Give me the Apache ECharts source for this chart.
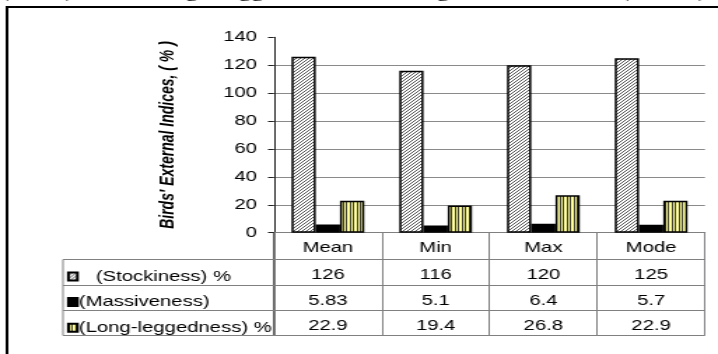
<!DOCTYPE html>
<html>
<head>
<meta charset="utf-8">
<script src="https://cdn.jsdelivr.net/npm/echarts@6/dist/echarts.min.js"></script>
<style>
  html, body { margin: 0; padding: 0; background: #fff; overflow: hidden; }
  /* the figure is laid out narrow and widened horizontally, like the printed page */
  #chart { width: 513px; height: 354px; transform-origin: 0 0; transform: scaleX(1.39961); }
</style>
</head>
<body>
<div id="chart"></div>
<script>
// Birds' external indices by statistic
const categories = ['Mean', 'Min', 'Max', 'Mode'];
const stockiness = [126, 116, 120, 125];
const massiveness = [5.83, 5.1, 6.4, 5.7];
const longLeggedness = [22.9, 19.4, 26.8, 22.9];
const seriesNames = ['   (Stockiness) %', '(Massiveness)', '(Long-leggedness) %'];
const yMin = 0, yMax = 140, yStep = 20;
const axisTitle = "Birds' External Indices, ( % )";

const SANS = "'Liberation Sans', Arial, sans-serif";
const SERIF = "'Liberation Serif', 'Times New Roman', serif";
const FS = 14.5;

// horizontal widening factor; X() maps page x to layout x
const S = 718 / 513;
const X = v => v / S;

// plot + data-table geometry (page pixels)
const G = { left: X(274), right: 513 - X(705), top: 37.3, bottom: 121.3 };
const rowOffsets = [26.6, 52.3, 77.3];
const tableLines = [259.5, 285.5, 310.5, 335.5];
const tableLeft = X(63), tableRight = X(705);

// fill patterns
function hatchPattern() {
  const c = document.createElement('canvas');
  c.width = 3; c.height = 3;
  const g = c.getContext('2d');
  g.fillStyle = '#ffffff'; g.fillRect(0, 0, 3, 3);
  g.fillStyle = '#555555';
  for (let i = 0; i < 3; i++) g.fillRect(i, 2 - i, 1, 1);
  return c;
}
function stripePattern() {
  const c = document.createElement('canvas');
  c.width = 5; c.height = 4;
  const g = c.getContext('2d');
  g.fillStyle = '#ffff99'; g.fillRect(0, 0, 5, 4);
  g.fillStyle = '#3a3a2a';
  g.fillRect(0, 0, 1, 4);
  g.fillRect(2, 0, 1, 4);
  return c;
}

const splitColors = [];
for (let v = yMin; v <= yMax; v += yStep) splitColors.push(v < yMax ? '#8a8a8a' : 'rgba(0,0,0,0)');

const valueRows = [stockiness, massiveness, longLeggedness];

const chart = echarts.init(document.getElementById('chart'), null, { renderer: 'canvas', devicePixelRatio: 1 });

const capFont = '18px ' + SERIF;
const capY = 1;
const graphics = [
  // outer frame
  { type: 'rect', shape: { x: X(7), y: 7, width: 600, height: 400 }, style: { fill: 'none', stroke: '#000', lineWidth: 2 }, silent: true },
  // caption line above the frame
  { type: 'text', x: 0.5, y: capY, style: { text: '(Tab.3)', font: capFont, fill: '#000', verticalAlign: 'bottom' } },
  { type: 'text', x: 80.6, y: capY, style: { text: 'showing', font: capFont, fill: '#000', verticalAlign: 'bottom' } },
  { type: 'text', x: 157.5, y: capY, style: { text: 'leggedness and', font: capFont, fill: '#000', verticalAlign: 'bottom' } },
  { type: 'text', x: 288.9, y: capY, style: { text: 'long', font: capFont, fill: '#000', verticalAlign: 'bottom' } },
  { type: 'text', x: 443.6, y: capY, style: { text: '(Tab.10)', font: capFont, fill: '#000', verticalAlign: 'bottom' } },
  // legend column box
  { type: 'line', shape: { x1: tableLeft, y1: tableLines[0], x2: tableLeft, y2: tableLines[3] }, style: { stroke: '#808080', lineWidth: 1 }, silent: true },
  // continuation of the value axis through the table
  { type: 'line', shape: { x1: G.left, y1: 232, x2: G.left, y2: tableLines[3] }, style: { stroke: '#222', lineWidth: 1 }, silent: true }
];
tableLines.forEach(y => graphics.push({
  type: 'line', shape: { x1: tableLeft, y1: y, x2: tableRight, y2: y },
  style: { stroke: '#808080', lineWidth: 1 }, silent: true
}));

const xAxes = [{
  type: 'category', data: categories, position: 'bottom',
  axisLine: { show: true, lineStyle: { color: '#808080', width: 1 } },
  axisTick: { show: true, interval: 0, length: 102.8, lineStyle: { color: '#808080', width: 1 } },
  axisLabel: { interval: 0, margin: 8, fontSize: FS, color: '#000', fontFamily: SANS },
  splitLine: { show: false }
}];
valueRows.forEach((vals, r) => xAxes.push({
  type: 'category', data: categories, position: 'bottom', offset: rowOffsets[r],
  axisLine: { show: false }, axisTick: { show: false }, splitLine: { show: false },
  axisLabel: { interval: 0, margin: 8, fontSize: FS, color: '#000', fontFamily: SANS,
    formatter: (v, i) => String(vals[i]) }
}));

const barBase = { type: 'bar', xAxisIndex: 0, yAxisIndex: 0, barGap: '0%', barCategoryGap: '32.5%', silent: true,
  emphasis: { disabled: true } };

chart.setOption({
  animation: false,
  backgroundColor: '#fff',
  grid: { left: G.left, right: G.right, top: G.top, bottom: G.bottom },
  legend: {
    orient: 'vertical', left: X(67), top: 269, padding: 0, icon: 'rect',
    itemWidth: X(9), itemHeight: 8, itemGap: 10.6, selectedMode: false,
    textStyle: { fontSize: FS, color: '#000', fontFamily: SANS, padding: [0, 0, 0, -4] },
    data: seriesNames
  },
  xAxis: xAxes,
  yAxis: {
    type: 'value', min: yMin, max: yMax, interval: yStep,
    axisLine: { show: true, lineStyle: { color: '#222', width: 1 } },
    axisTick: { show: true, length: X(6), lineStyle: { color: '#222' } },
    axisLabel: { margin: X(17), fontSize: FS, color: '#000', fontFamily: SANS },
    splitLine: { show: true, lineStyle: { color: splitColors, width: 1 } },
    name: axisTitle, nameLocation: 'middle', nameGap: X(96),
    nameTextStyle: { fontStyle: 'italic', fontWeight: 'bold', fontSize: 14, color: '#000', fontFamily: SANS }
  },
  series: [
    Object.assign({}, barBase, { name: seriesNames[0], data: stockiness,
      itemStyle: { color: { image: hatchPattern(), repeat: 'repeat' }, borderColor: '#000', borderWidth: 1.5 } }),
    Object.assign({}, barBase, { name: seriesNames[1], data: massiveness,
      itemStyle: { color: '#000', borderColor: '#000', borderWidth: 1.5 } }),
    Object.assign({}, barBase, { name: seriesNames[2], data: longLeggedness,
      itemStyle: { color: { image: stripePattern(), repeat: 'repeat' }, borderColor: '#000', borderWidth: 1.5 } })
  ],
  graphic: graphics
});
</script>
</body>
</html>
